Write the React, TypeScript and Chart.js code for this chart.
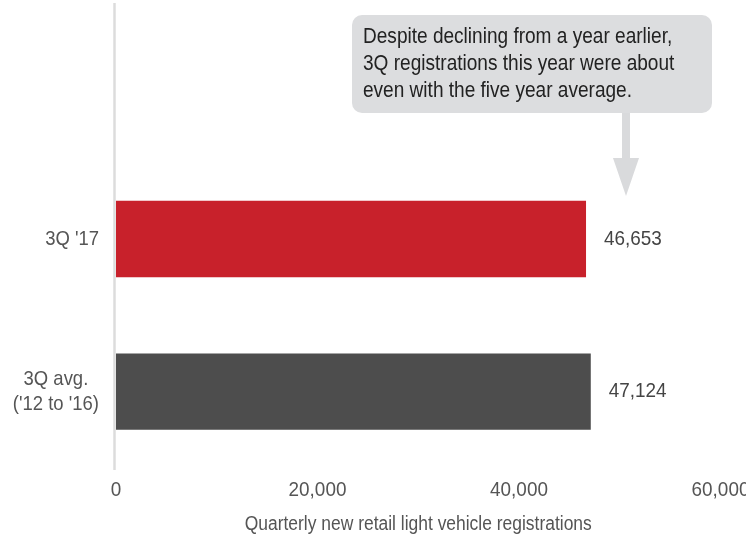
import React, { useEffect, useRef } from "react";
import { Chart, registerables } from "chart.js";

Chart.register(...registerables);

const categories: (string | string[])[] = ["", "3Q '17", ["3Q avg.", "('12 to '16)"]];
const values: (number | null)[] = [null, 46653, 47124];
const barColors = ["rgba(0,0,0,0)", "#c8212b", "#4d4d4d"];
const xTickValues = [0, 20000, 40000, 60000];
const axisTitle = "Quarterly new retail light vehicle registrations";
const noteLines = [
  "Despite declining from a year earlier,",
  "3Q registrations this year were about",
  "even with the five year average.",
];

const FONT = "'Liberation Sans', Arial, sans-serif";
const fmt = (v: number) => v.toLocaleString("en-US");

function txt(ctx: any, s: string, x: number, y: number, size: number, align: string, sx: number, color: string) {
  ctx.save();
  ctx.translate(x, y);
  ctx.scale(sx, 1);
  ctx.font = `${size}px ${FONT}`;
  ctx.fillStyle = color;
  ctx.textAlign = align;
  ctx.textBaseline = "middle";
  ctx.fillText(s, 0, 0);
  ctx.restore();
}

const overlayPlugin = {
  id: "overlay",
  beforeDatasetsDraw(chart: any) {
    const { ctx, chartArea } = chart;
    ctx.save();
    ctx.strokeStyle = "#dcdcdc";
    ctx.lineWidth = 2.5;
    ctx.beginPath();
    ctx.moveTo(chartArea.left - 1.5, 3);
    ctx.lineTo(chartArea.left - 1.5, chartArea.bottom + 2);
    ctx.stroke();
    ctx.restore();
  },
  afterDraw(chart: any) {
    const { ctx, chartArea } = chart;
    const x = chart.scales.x;
    const y = chart.scales.y;
    ctx.save();
    // category labels
    const catSize = 21, catSx = 0.88;
    ctx.font = `${catSize}px ${FONT}`;
    categories.forEach((c, i) => {
      const lines = Array.isArray(c) ? c : [c];
      if (!lines[0]) return;
      const cy = y.getPixelForValue(i);
      const maxW = Math.max(...lines.map((l) => ctx.measureText(l).width)) * catSx;
      const cx = chartArea.left - 17 - maxW / 2;
      const lh = 25;
      lines.forEach((l, k) => {
        txt(ctx, l, cx, cy + (k - (lines.length - 1) / 2) * lh, catSize, "center", catSx, "#555555");
      });
    });
    // value labels
    values.forEach((v, i) => {
      if (v == null) return;
      txt(ctx, fmt(v), x.getPixelForValue(v) + 18, y.getPixelForValue(i), 21, "left", 0.9, "#444444");
    });
    // x tick labels
    xTickValues.forEach((v) => {
      txt(ctx, fmt(v), x.getPixelForValue(v), 490, 21, "center", 0.9, "#555555");
    });
    // axis title
    txt(ctx, axisTitle, (chartArea.left + chartArea.right) / 2, 524, 20, "center", 0.872, "#555555");
    // annotation
    const bx = 352, by = 15, bw = 360, bh = 98, r = 10;
    ctx.fillStyle = "#dcdddf";
    ctx.beginPath();
    ctx.moveTo(bx + r, by);
    ctx.arcTo(bx + bw, by, bx + bw, by + bh, r);
    ctx.arcTo(bx + bw, by + bh, bx, by + bh, r);
    ctx.arcTo(bx, by + bh, bx, by, r);
    ctx.arcTo(bx, by, bx + bw, by, r);
    ctx.closePath();
    ctx.fill();
    ctx.fillStyle = "#d9dadc";
    ctx.fillRect(622, by + bh, 8, 46);
    ctx.beginPath();
    ctx.moveTo(613, 158);
    ctx.lineTo(639, 158);
    ctx.lineTo(626, 196);
    ctx.closePath();
    ctx.fill();
    noteLines.forEach((l, k) => txt(ctx, l, 363, 37 + k * 27, 22, "left", 0.866, "#222222"));
    ctx.restore();
  },
};

export default function App() {
  const ref = useRef<HTMLCanvasElement | null>(null);
  useEffect(() => {
    if (!ref.current) return;
    const chart = new Chart(ref.current, {
      type: "bar",
      data: {
        labels: categories as any,
        datasets: [
          {
            data: values as any,
            backgroundColor: barColors,
            borderWidth: 0,
            barPercentage: 0.5,
            categoryPercentage: 1,
          },
        ],
      },
      options: {
        indexAxis: "y",
        animation: false,
        responsive: false,
        layout: { padding: { top: 10, right: 59.5, left: 0, bottom: 0 } },
        plugins: { legend: { display: false }, tooltip: { enabled: false } },
        scales: {
          x: {
            min: 0,
            max: 60000,
            afterFit: (s: any) => {
              s.height = 67;
            },
            grid: { display: false, drawTicks: false },
            border: { display: false },
            ticks: { display: false, stepSize: 20000 },
          },
          y: {
            afterFit: (s: any) => {
              s.width = 116;
            },
            grid: { display: false, drawTicks: false },
            border: { display: false },
            ticks: { display: false },
          },
        },
      },
      plugins: [overlayPlugin],
    });
    return () => chart.destroy();
  }, []);
  return (
    <div style={{ position: "fixed", left: 0, top: 0, width: 780, height: 535 }}>
      <canvas ref={ref} width={780} height={535} style={{ width: 780, height: 535 }} />
    </div>
  );
}
